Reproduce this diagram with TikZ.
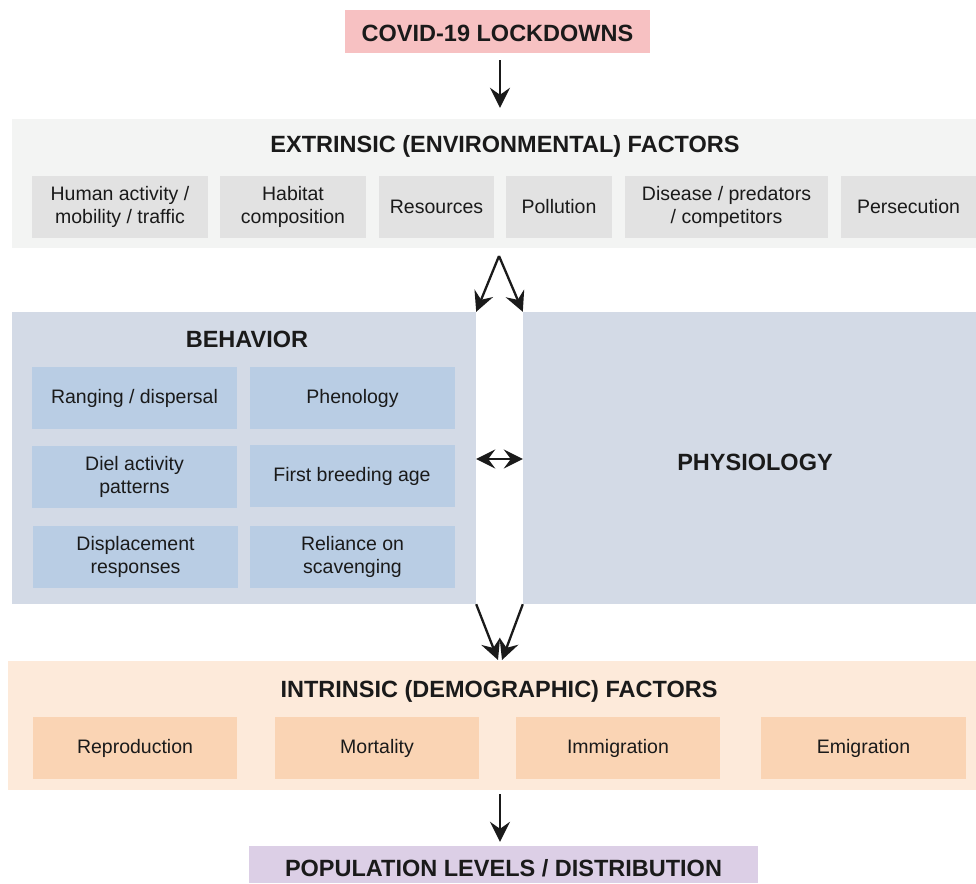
\documentclass[tikz,border=0pt]{standalone}
\usepackage{fontspec}
\setmainfont{Liberation Sans}
\usetikzlibrary{arrows.meta}

\definecolor{lockpink}{HTML}{F7C1C2}
\definecolor{extband}{HTML}{F3F4F3}
\definecolor{extbox}{HTML}{E2E2E2}
\definecolor{behband}{HTML}{D3DAE6}
\definecolor{behbox}{HTML}{B9CDE4}
\definecolor{intband}{HTML}{FDEADA}
\definecolor{intbox}{HTML}{FAD4B4}
\definecolor{poplilac}{HTML}{DCCFE6}
\definecolor{ink}{HTML}{1A1A1A}

\begin{document}
\begin{tikzpicture}[x=1pt,y=-1pt,
	box/.style={rectangle,inner sep=0pt,align=center,text=ink,font=\fontsize{19.5}{23.5}\selectfont},
	title/.style={inner sep=0pt,text=ink,font=\fontsize{23.5}{27}\selectfont\bfseries},
	arr/.style={draw=ink,line width=2.3pt,-{Stealth[length=20pt,width=20pt,inset=7pt]}},
	arrtwo/.style={draw=ink,line width=2.3pt,{Stealth[length=19pt,width=19pt,inset=7pt]}-{Stealth[length=19pt,width=19pt,inset=7pt]}}]
	\useasboundingbox (0,0) rectangle (976,883);

	% top
	\node[box,fill=lockpink,minimum width=305,minimum height=43] (covid) at (497.5,31.5) {};
	\node[title] at (497.5,33) {COVID-19 LOCKDOWNS};

	% extrinsic factors
	\node[box,fill=extband,minimum width=964,minimum height=129] (ext) at (494,183.5) {};
	\node[title] (exttitle) at (505,146) {EXTRINSIC (ENVIRONMENTAL) FACTORS};
	\node[box,fill=extbox,minimum width=176,minimum height=62] (human) at (120,207) {Human activity /\\mobility / traffic};
	\node[box,fill=extbox,minimum width=146,minimum height=62] (habitat) at (293,207) {Habitat\\composition};
	\node[box,fill=extbox,minimum width=115,minimum height=62] (resources) at (436.5,207) {Resources};
	\node[box,fill=extbox,minimum width=106,minimum height=62] (pollution) at (559,207) {Pollution};
	\node[box,fill=extbox,minimum width=203,minimum height=62] (disease) at (726.5,207) {Disease / predators\\/ competitors};
	\node[box,fill=extbox,minimum width=135,minimum height=62] (persecution) at (908.5,207) {Persecution};

	% behavior and physiology
	\node[box,fill=behband,minimum width=464,minimum height=292] (beh) at (244,458) {};
	\node[title] (behtitle) at (247,339) {BEHAVIOR};
	\node[box,fill=behbox,minimum width=205,minimum height=62] (ranging) at (134.5,398) {Ranging / dispersal};
	\node[box,fill=behbox,minimum width=205,minimum height=62] (phenology) at (352.5,398) {Phenology};
	\node[box,fill=behbox,minimum width=205,minimum height=62] (diel) at (134.5,477) {Diel activity\\patterns};
	\node[box,fill=behbox,minimum width=205,minimum height=62] (firstbreed) at (352,476) {First breeding age};
	\node[box,fill=behbox,minimum width=205,minimum height=62] (displace) at (135.5,557) {Displacement\\responses};
	\node[box,fill=behbox,minimum width=205,minimum height=62] (reliance) at (352.5,557) {Reliance on\\scavenging};

	\node[box,fill=behband,minimum width=453,minimum height=292] (phys) at (749.5,458) {};
	\node[title] (phystitle) at (755,462) {PHYSIOLOGY};

	% intrinsic factors
	\node[box,fill=intband,minimum width=968,minimum height=129] (intr) at (492,725.5) {};
	\node[title] (intrtitle) at (499,691) {INTRINSIC (DEMOGRAPHIC) FACTORS};
	\node[box,fill=intbox,minimum width=204,minimum height=62] (repro) at (135,748) {Reproduction};
	\node[box,fill=intbox,minimum width=204,minimum height=62] (mortality) at (377,748) {Mortality};
	\node[box,fill=intbox,minimum width=204,minimum height=62] (immigration) at (618,748) {Immigration};
	\node[box,fill=intbox,minimum width=205,minimum height=62] (emigration) at (863.5,748) {Emigration};

	% bottom
	\node[box,fill=poplilac,minimum width=509,minimum height=37] (pop) at (503.5,864.5) {};
	\node[title] at (503.5,868) {POPULATION LEVELS / DISTRIBUTION};

	% connectors
	\coordinate (fork) at (499,256);
	\coordinate (join) at (500,660);
	\draw[arr,shorten <=7pt,shorten >=11pt] ([xshift=2.5pt]covid.south) -- ([xshift=6pt]ext.north);
	\draw[arr] (fork) -- (beh.north east);
	\draw[arr] (fork) -- (phys.north west);
	\draw[arrtwo] ([yshift=-1pt]beh.east) -- ([yshift=-1pt]phys.west);
	\draw[arr] (beh.south east) -- ([xshift=-2pt]join);
	\draw[arr] (phys.south west) -- ([xshift=2pt]join);
	\draw[arr,shorten <=4pt,shorten >=4pt] ([xshift=8pt]intr.south) -- ([xshift=-3.5pt]pop.north);
\end{tikzpicture}
\end{document}
